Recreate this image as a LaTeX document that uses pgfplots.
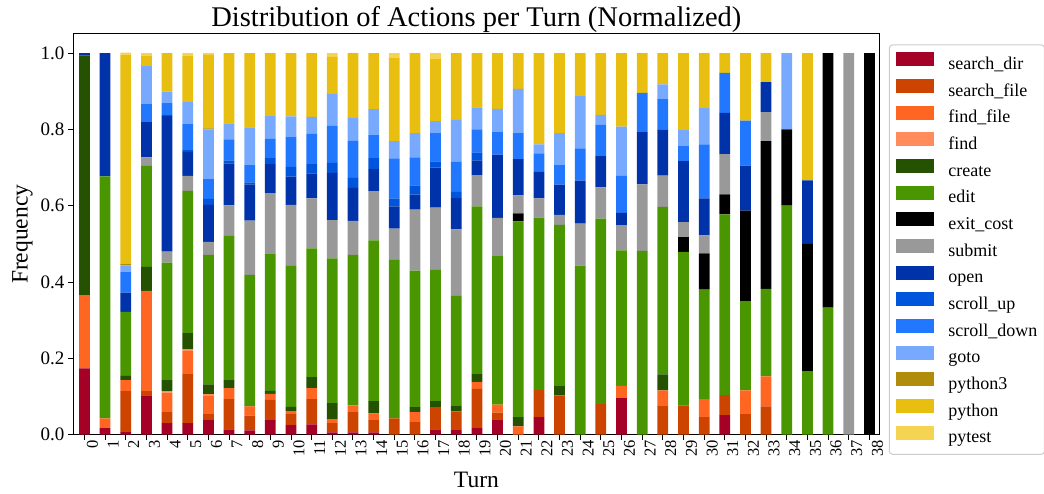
\documentclass[border=0pt]{standalone}
\usepackage{fontspec}
\setmainfont{Liberation Serif}
\usepackage{pgfplots}
\usepackage{pgfplotstable}
\pgfplotsset{compat=1.18}

\definecolor{csd}{RGB}{165,0,38}
\definecolor{csf}{RGB}{204,68,0}
\definecolor{cff}{RGB}{255,102,34}
\definecolor{cfi}{RGB}{255,140,90}
\definecolor{ccr}{RGB}{36,82,0}
\definecolor{ced}{RGB}{74,150,0}
\definecolor{cex}{RGB}{0,0,0}
\definecolor{csb}{RGB}{153,153,153}
\definecolor{cop}{RGB}{0,51,170}
\definecolor{csu}{RGB}{0,85,221}
\definecolor{csn}{RGB}{34,119,255}
\definecolor{cgo}{RGB}{119,170,255}
\definecolor{cpt}{RGB}{176,140,10}
\definecolor{cpy}{RGB}{232,190,16}
\definecolor{cpe}{RGB}{244,212,80}

\pgfplotstableread{
t sd sf ff fi cr ed ex sb op su sn go pt py pe
0 0.174 0 0.192 0 0.627 0 0 0 0.007 0 0 0 0 0 0
1 0.017 0 0.026 0 0 0.634 0 0 0.323 0 0 0 0 0 0
2 0.009 0.105 0.029 0 0.011 0.168 0 0 0.050 0 0.055 0.017 0.003 0.549 0.005
3 0.103 0.011 0.263 0 0.063 0.266 0 0.021 0.092 0 0.047 0.100 0 0.026 0.008
4 0.030 0.029 0.051 0.004 0.029 0.308 0 0.029 0.355 0.003 0.032 0.029 0 0.101 0
5 0.030 0.131 0.058 0.005 0.042 0.373 0 0.039 0.063 0.005 0.068 0.058 0 0.120 0.008
6 0.038 0.016 0.047 0.005 0.026 0.339 0 0.034 0.097 0.016 0.053 0.129 0.003 0.192 0.005
7 0.014 0.079 0.029 0 0.021 0.379 0 0.079 0.110 0.008 0.055 0.042 0 0.184 0
8 0.011 0.039 0.024 0 0.003 0.342 0 0.142 0.095 0.005 0.047 0.097 0 0.195 0
9 0.038 0.053 0.016 0 0.008 0.358 0 0.160 0.076 0.016 0.050 0.060 0 0.165 0
10 0.025 0.029 0.008 0 0.011 0.371 0 0.158 0.074 0.026 0.079 0.053 0 0.166 0
11 0.027 0.066 0.029 0 0.029 0.337 0 0.131 0.066 0.024 0.079 0.045 0 0.167 0
12 0.006 0.024 0.011 0 0.042 0.379 0 0.100 0.124 0.026 0.097 0.084 0 0.097 0.010
13 0.006 0.053 0.018 0 0 0.394 0 0.089 0.087 0.026 0.097 0.060 0 0.170 0
14 0.006 0.032 0.018 0 0.032 0.421 0 0.129 0.058 0.029 0.060 0.068 0 0.147 0
15 0 0.043 0 0 0 0.415 0 0.082 0.058 0.021 0.105 0.045 0 0.218 0.013
16 0 0.035 0.024 0 0.013 0.358 0 0.160 0.039 0.024 0.074 0.063 0 0.210 0
17 0.014 0.058 0 0 0.016 0.344 0 0.163 0.105 0.016 0.074 0.032 0 0.162 0.016
18 0.014 0.047 0 0 0.016 0.287 0 0.174 0.082 0.016 0.079 0.110 0 0.175 0
19 0.017 0.103 0.018 0 0.021 0.439 0 0.082 0.039 0.021 0.060 0.058 0 0.142 0
20 0.040 0.018 0.021 0 0 0.389 0 0.100 0.166 0 0.060 0.060 0 0.146 0
21 0 0 0.022 0 0.024 0.513 0.021 0.047 0.095 0 0.068 0.116 0 0.094 0
22 0.046 0.071 0 0 0 0.452 0 0.050 0.071 0 0.047 0.024 0 0.239 0
23 0 0.103 0 0 0.026 0.421 0 0.026 0.079 0 0.053 0.082 0 0.210 0
24 0 0 0 0 0 0.443 0 0.110 0.113 0 0.084 0.137 0 0.113 0
25 0 0.080 0 0 0 0.486 0 0.082 0.082 0 0.082 0.026 0 0.162 0
26 0.096 0 0.032 0 0 0.355 0 0.066 0.032 0 0.097 0.129 0 0.193 0
27 0 0 0 0 0 0.482 0 0.174 0.137 0 0.103 0 0 0.104 0
28 0 0.077 0.039 0 0.042 0.439 0 0.082 0.121 0 0.079 0.039 0 0.082 0
29 0 0.077 0 0 0 0.402 0.039 0.039 0.160 0 0.039 0.042 0 0.202 0
30 0 0.046 0.047 0 0 0.287 0.095 0.047 0.097 0 0.142 0.095 0 0.144 0
31 0.051 0.053 0 0 0 0.473 0.053 0.105 0.108 0 0.105 0 0 0.052 0
32 0 0.056 0.060 0 0 0.234 0.237 0 0.118 0 0.118 0 0 0.177 0
33 0 0.074 0.079 0 0 0.229 0.387 0.076 0.079 0 0 0 0 0.076 0
34 0 0 0 0 0 0.6 0.2 0 0 0 0 0.2 0 0 0
35 0 0 0 0 0 0.1667 0.3333 0 0.1667 0 0 0 0 0.3333 0
36 0 0 0 0 0 0.3333 0.6667 0 0 0 0 0 0 0 0
37 0 0 0 0 0 0 0 1 0 0 0 0 0 0 0
38 0 0 0 0 0 0 1 0 0 0 0 0 0 0 0
}\data

\begin{document}
\begin{tikzpicture}
\path[use as bounding box] (-73.5pt,-59.3pt) rectangle (970.5pt,434.7pt);
\begin{axis}[
  at={(0pt,0pt)}, anchor=south west,
  scale only axis, width=805.8pt, height=400.7pt,
  ybar stacked, bar width=0.52,
  xmin=-0.53, xmax=38.48, ymin=0, ymax=1.05,
  xtick={0,1,...,38}, ytick={0,0.2,0.4,0.6,0.8,1.0},
  /pgf/number format/assume math mode=true,
  tick align=outside, xtick pos=left, ytick pos=left,
  major tick length=5pt,
  every tick/.style={black, line width=1pt},
  axis line style={black, line width=1pt},
  yticklabel style={font=\fontsize{19}{19}\selectfont, inner sep=0pt, xshift=-4pt,
    /pgf/number format/.cd, fixed, fixed zerofill, precision=1},
  xticklabel style={font=\fontsize{16.5}{16.5}\selectfont, rotate=90, anchor=east, inner sep=0pt, yshift=-8pt},
  title={Distribution of Actions per Turn (Normalized)},
  title style={font=\fontsize{28.5}{28.5}\selectfont, at={(axis description cs:0.5,1)}, anchor=base, yshift=1pt},
  xlabel={Turn},
  xlabel style={font=\fontsize{23.5}{23.5}\selectfont, at={(axis description cs:0.5,0)}, anchor=base, yshift=-52.6pt},
  ylabel={Frequency},
  ylabel style={font=\fontsize{23.5}{23.5}\selectfont, at={(axis description cs:-0.057,0.5)}, anchor=base, rotate=0},
  legend image code/.code={\fill[#1, sharp corners] (0pt,-1pt) rectangle (38pt,13pt);},
  legend cell align=left,
  legend style={at={(axis description cs:1.012,0.974)}, anchor=north west,
    draw=black!20, line width=1pt, rounded corners=3pt,
    inner xsep=7pt, inner ysep=7.5pt,
    font=\fontsize{18}{18}\selectfont,
    row sep=5.4pt,
    nodes={inner sep=0pt, text height=12.5pt, text depth=4pt},
    /tikz/every odd column/.style={column sep=14pt}},
]
\addplot[fill=csd, draw=none] table[x=t, y=sd] {\data};
\addplot[fill=csf, draw=none] table[x=t, y=sf] {\data};
\addplot[fill=cff, draw=none] table[x=t, y=ff] {\data};
\addplot[fill=cfi, draw=none] table[x=t, y=fi] {\data};
\addplot[fill=ccr, draw=none] table[x=t, y=cr] {\data};
\addplot[fill=ced, draw=none] table[x=t, y=ed] {\data};
\addplot[fill=cex, draw=none] table[x=t, y=ex] {\data};
\addplot[fill=csb, draw=none] table[x=t, y=sb] {\data};
\addplot[fill=cop, draw=none] table[x=t, y=op] {\data};
\addplot[fill=csu, draw=none] table[x=t, y=su] {\data};
\addplot[fill=csn, draw=none] table[x=t, y=sn] {\data};
\addplot[fill=cgo, draw=none] table[x=t, y=go] {\data};
\addplot[fill=cpt, draw=none] table[x=t, y=pt] {\data};
\addplot[fill=cpy, draw=none] table[x=t, y=py] {\data};
\addplot[fill=cpe, draw=none] table[x=t, y=pe] {\data};
\legend{search\_dir, search\_file, find\_file, find, create, edit, exit\_cost, submit, open, scroll\_up, scroll\_down, goto, python3, python, pytest}
\end{axis}
\end{tikzpicture}
\end{document}
